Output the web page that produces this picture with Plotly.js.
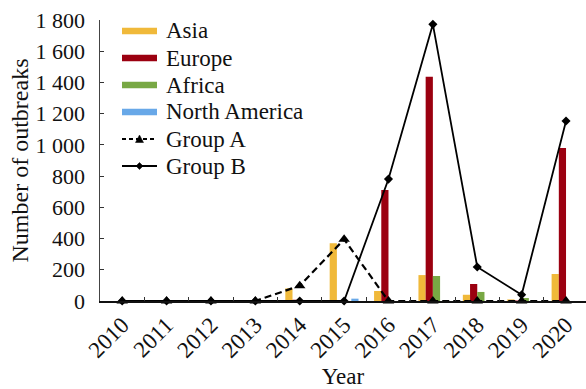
<!DOCTYPE html>
<html>
<head>
<meta charset="utf-8">
<script src="https://cdn.plot.ly/plotly-3.0.1.min.js"></script>
<style>html,body{margin:0;padding:0;background:#fff;}#chart{width:586px;height:389px;}</style>
</head>
<body>
<div id="chart"></div>
<script>
const years = ['2010','2011','2012','2013','2014','2015','2016','2017','2018','2019','2020'];
const asia = [0, 0, 0, 0, 81, 370, 64, 166, 40, 10, 173];
const europe = [0, 0, 0, 0, 8, 3, 711, 1437, 109, 3, 980];
const africa = [0, 0, 0, 0, 0, 0, 0, 160, 58, 19, 0];
const northAmerica = [0, 0, 0, 0, 0, 15, 0, 0, 0, 0, 0];
const groupA = [0, 0, 0, 0, 98, 395, 0, 0, 0, 0, 0];
const groupB = [0, 0, 0, 0, 0, 0, 781, 1772, 218, 40, 1153];
const yTicks = [0, 200, 400, 600, 800, 1000, 1200, 1400, 1600, 1800];
const legendNames = ['Asia', 'Europe', 'Africa', 'North America', 'Group A', 'Group B'];

const colors = {asia:'#f0b93a', europe:'#9b0010', africa:'#78a844', na:'#68a8e8'};
const font = 'Liberation Serif, Times New Roman, serif';
const dashA = '7px,4px';

// plot area in pixels (for the hand-built legend)
const W = 586, H = 389, M = {l:100, r:0, t:20, b:88};
const pw = W - M.l - M.r, ph = H - M.t - M.b;
const px = x => (x - M.l) / pw;
const py = y => (H - M.b - y) / ph;

function bar(name, y, color){
  return {type:'bar', name:name, x:years, y:y, marker:{color:color, line:{width:0}}, showlegend:false, hoverinfo:'skip'};
}

const data = [
  bar('Asia', asia, colors.asia),
  bar('Europe', europe, colors.europe),
  bar('Africa', africa, colors.africa),
  bar('North America', northAmerica, colors.na),
  {type:'scatter', mode:'lines+markers', name:'Group A', x:years, y:groupA, cliponaxis:false, showlegend:false,
   line:{color:'#000', width:2.2, dash:dashA}, marker:{symbol:'triangle-up', size:10, color:'#000'}},
  {type:'scatter', mode:'lines+markers', name:'Group B', x:years, y:groupB, cliponaxis:false, showlegend:false,
   line:{color:'#000', width:1.8}, marker:{symbol:'diamond', size:7, color:'#000'}}
];

// legend
const rows = [31, 58, 85, 112, 139, 166];
const symX0 = 122, symX1 = 157, textX = 164;
const swatch = [colors.asia, colors.europe, colors.africa, colors.na];
const shapes = [];
const annotations = [];
legendNames.forEach((n, i) => {
  annotations.push({xref:'paper', yref:'paper', x:px(textX), y:py(rows[i]), xanchor:'left', yanchor:'middle',
    text:n, showarrow:false, font:{family:font, size:23, color:'#111'}});
  if (i < 4) {
    shapes.push({type:'line', xref:'paper', yref:'paper', x0:px(symX0), x1:px(symX1), y0:py(rows[i]), y1:py(rows[i]),
      line:{color:swatch[i], width:6.5}});
  } else {
    shapes.push({type:'line', xref:'paper', yref:'paper', x0:px(symX0), x1:px(symX1), y0:py(rows[i]), y1:py(rows[i]),
      line:{color:'#000', width:1.8, dash: i === 4 ? '4px,3px' : 'solid'}});
    const cx = (symX0 + symX1) / 2, cy = rows[i];
    let path;
    if (i === 4) {
      path = `M${px(cx-4)},${py(cy+3.5)} L${px(cx+4)},${py(cy+3.5)} L${px(cx)},${py(cy-4)} Z`;
    } else {
      path = `M${px(cx-3.5)},${py(cy)} L${px(cx)},${py(cy-3.5)} L${px(cx+3.5)},${py(cy)} L${px(cx)},${py(cy+3.5)} Z`;
    }
    shapes.push({type:'path', xref:'paper', yref:'paper', path:path, fillcolor:'#000', line:{color:'#000', width:0.5}});
  }
});

const layout = {
  width:W, height:H,
  margin:M,
  paper_bgcolor:'#fff', plot_bgcolor:'#fff',
  font:{family:font, size:22, color:'#111'},
  barmode:'group', bargap:0.35, bargroupgap:0,
  separators:'. ',
  showlegend:false,
  shapes:shapes,
  annotations:annotations,
  xaxis:{type:'category', range:[-0.5, 10.45], tickson:'boundaries', ticks:'inside', ticklen:4,
         tickcolor:'#333', showline:true, linecolor:'#111', linewidth:1.5, showgrid:false, zeroline:false,
         tickangle:-45, tickfont:{family:font, size:23, color:'#111'},
         title:{text:'Year', font:{family:font, size:23, color:'#111'}, standoff:6}},
  yaxis:{range:[0,1800], tickvals:yTicks, ticks:'inside', ticklen:4, tickcolor:'#333',
         showline:true, linecolor:'#444', linewidth:1.5, showgrid:false, zeroline:false,
         separatethousands:true, tickformat:',d', tickfont:{family:font, size:22, color:'#111'},
         ticklabelstandoff:9,
         title:{text:'Number of outbreaks', font:{family:font, size:24, color:'#111'}, standoff:0}}
};

Plotly.newPlot('chart', data, layout, {displayModeBar:false, staticPlot:true});
</script>
</body>
</html>
